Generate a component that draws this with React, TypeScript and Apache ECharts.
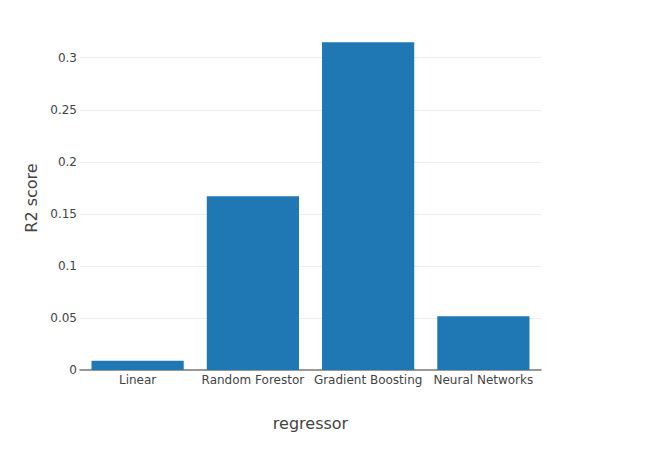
import React, { useEffect, useRef } from "react";
import * as echarts from "echarts";

const categories = ["Linear", "Random Forestor", "Gradient Boosting", "Neural Networks"];
const scores = [0.009, 0.167, 0.3148, 0.0516];
const yMax = 0.3305;
const yInterval = 0.05;

const FONT = "DejaVu Sans";

export default function App() {
  const ref = useRef<HTMLDivElement>(null);
  useEffect(() => {
    if (!ref.current) return;
    const chart = echarts.init(ref.current, undefined, { renderer: "svg" });
    chart.setOption({
      animation: false,
      textStyle: { fontFamily: FONT },
      grid: { left: 80, right: 119, top: 26, bottom: 80, containLabel: false },
      xAxis: {
        type: "category",
        data: categories,
        name: "regressor",
        nameLocation: "middle",
        nameGap: 45,
        nameTextStyle: { fontSize: 16, color: "#444", fontFamily: FONT },
        axisLine: { show: true, lineStyle: { color: "#777", width: 1.5 } },
        axisTick: { show: false },
        axisLabel: { fontSize: 12, color: "#444", margin: 4, fontFamily: FONT, interval: 0 },
      },
      yAxis: {
        type: "value",
        min: 0,
        max: yMax,
        interval: yInterval,
        name: "R2 score",
        nameLocation: "middle",
        nameGap: 39,
        nameTextStyle: { fontSize: 16, color: "#444", fontFamily: FONT },
        axisLine: { show: false },
        axisTick: { show: false },
        axisLabel: {
          fontSize: 12,
          color: "#444",
          margin: 3,
          fontFamily: FONT,
          showMaxLabel: false,
          formatter: (v: number) => String(Math.round(v * 1000) / 1000),
        },
        splitLine: { show: true, showMinLine: false, showMaxLine: false, lineStyle: { color: "#eeeeee", width: 1 } },
      },
      series: [
        {
          type: "bar",
          data: scores,
          barCategoryGap: "20%",
          itemStyle: { color: "#1f77b4" },
        },
      ],
    });
    return () => chart.dispose();
  }, []);
  return <div ref={ref} style={{ width: 660, height: 450, margin: -8 }} />;
}
